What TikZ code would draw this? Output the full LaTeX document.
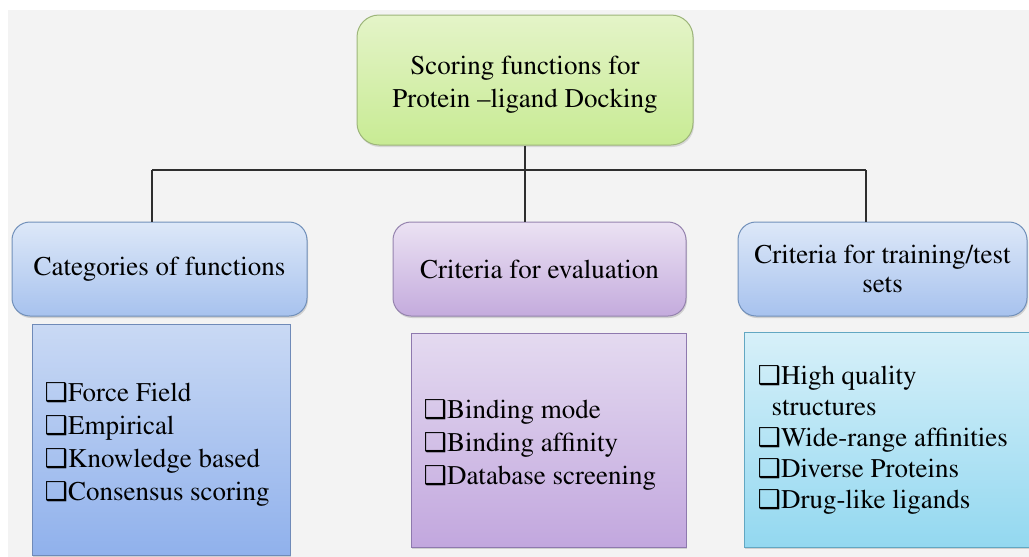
\documentclass[tikz,border=0pt]{standalone}
\usepackage{fontspec}
\newfontfamily\symfont{DejaVu Sans}
\newcommand\serifface{\fontencoding{T1}\fontfamily{ptm}}
\usetikzlibrary{positioning, shadows}
\definecolor{pagegray}{HTML}{F3F3F3}
\definecolor{linegray}{HTML}{2E2E2E}
\definecolor{rootedge}{HTML}{9DB57A}
\definecolor{roottop}{HTML}{E4F4C8}
\definecolor{rootbottom}{HTML}{C8EB94}
\definecolor{blueedge}{HTML}{7190BA}
\definecolor{bluetop}{HTML}{DDE8F8}
\definecolor{bluebottom}{HTML}{A7C2EE}
\definecolor{violetedge}{HTML}{9583AE}
\definecolor{violettop}{HTML}{EBE2F3}
\definecolor{violetbottom}{HTML}{C4ABDD}
\definecolor{catedge}{HTML}{6F8AB8}
\definecolor{cattop}{HTML}{C9D9F4}
\definecolor{catbottom}{HTML}{90B1EC}
\definecolor{evaledge}{HTML}{8E79AE}
\definecolor{evaltop}{HTML}{E4DAF0}
\definecolor{evalbottom}{HTML}{C2A7DE}
\definecolor{setsedge}{HTML}{62A7C2}
\definecolor{setstop}{HTML}{D7F0F9}
\definecolor{setsbottom}{HTML}{93D8F0}
\tikzstyle{root} = [rectangle, rounded corners=22pt, draw=rootedge, line width=1pt, top color=roottop, bottom color=rootbottom, minimum width=336pt, minimum height=130pt, align=center, drop shadow={opacity=0.25, shadow xshift=1pt, shadow yshift=-2pt}]
\tikzstyle{headblue} = [rectangle, rounded corners=18pt, draw=blueedge, line width=1pt, top color=bluetop, bottom color=bluebottom, minimum height=94pt, align=center, drop shadow={opacity=0.3, shadow xshift=1pt, shadow yshift=-2pt}]
\tikzstyle{headviolet} = [headblue, draw=violetedge, top color=violettop, bottom color=violetbottom]
\tikzstyle{list} = [rectangle, line width=1pt, align=left, drop shadow={opacity=0.3, shadow xshift=1pt, shadow yshift=-2pt}]
\tikzstyle{items} = [inner sep=0pt, align=left, anchor=west]
\tikzstyle{wire} = [draw=linegray, line width=1.3pt]
\newcommand\bx{{\symfont\fontsize{26}{26}\selectfont ❑}}

\begin{document}
\begin{tikzpicture}[x=1pt, y=-1pt, font=\serifface\fontsize{27}{33}\selectfont]
		% page
		\fill[white] (0,0) rectangle (1029,557);
		\fill[pagegray] (8,10) rectangle (1029,557);
		\useasboundingbox (0,0) rectangle (1029,557);

		% top of the tree
		\node (Scoring) [root] at (525,80) {\rule{0pt}{27pt}Scoring functions for\\Protein \textendash ligand Docking};

		% second row
		\node (Categories) [headblue, minimum width=295pt] at (159.5,269) {Categories of functions};
		\node (Evaluation) [headviolet, minimum width=293pt] at (539.5,269) {Criteria for evaluation};
		\node (Sets) [headblue, minimum width=289pt, font=\serifface\fontsize{27}{29}\selectfont] at (882.5,269) {Criteria for training/test\\sets};

		% lists under each heading
		\node (CatList) [list, draw=catedge, top color=cattop, bottom color=catbottom, minimum width=258pt, minimum height=231pt] at (161,439.5) {};
		\node (EvalList) [list, draw=evaledge, top color=evaltop, bottom color=evalbottom, minimum width=275pt, minimum height=214pt] at (548.5,440) {};
		\node (SetsList) [list, draw=setsedge, top color=setstop, bottom color=setsbottom, minimum width=287pt, minimum height=215pt] at (887.5,439.5) {};

		\node (CatItems) [items, yshift=-5pt] at ([xshift=13pt]CatList.west) {\bx Force Field\\\bx Empirical\\\bx Knowledge based\\\bx Consensus scoring};
		\node (EvalItems) [items, yshift=-5pt] at ([xshift=13pt]EvalList.west) {\bx Binding mode\\\bx Binding affinity\\\bx Database screening};
		\node (SetsItems) [items, font=\serifface\fontsize{27}{31}\selectfont] at ([xshift=14pt]SetsList.west) {\bx High quality\\\hspace{14pt}structures\\\bx Wide-range affinities\\\bx Diverse Proteins\\\bx Drug-like ligands};

		% connectors
		\coordinate (BusL) at (152,170);
		\coordinate (BusR) at (866,170);
		\draw [wire] (BusL) -- (BusR);
		\draw [wire] (Scoring.south) -- (Scoring.south |- BusL);
		\draw [wire] (BusL) -- (BusL |- Categories.north);
		\draw [wire] (Scoring.south |- BusL) -- (Scoring.south |- Evaluation.north);
		\draw [wire] (BusR) -- (BusR |- Sets.north);
		\end{tikzpicture}
\end{document}
